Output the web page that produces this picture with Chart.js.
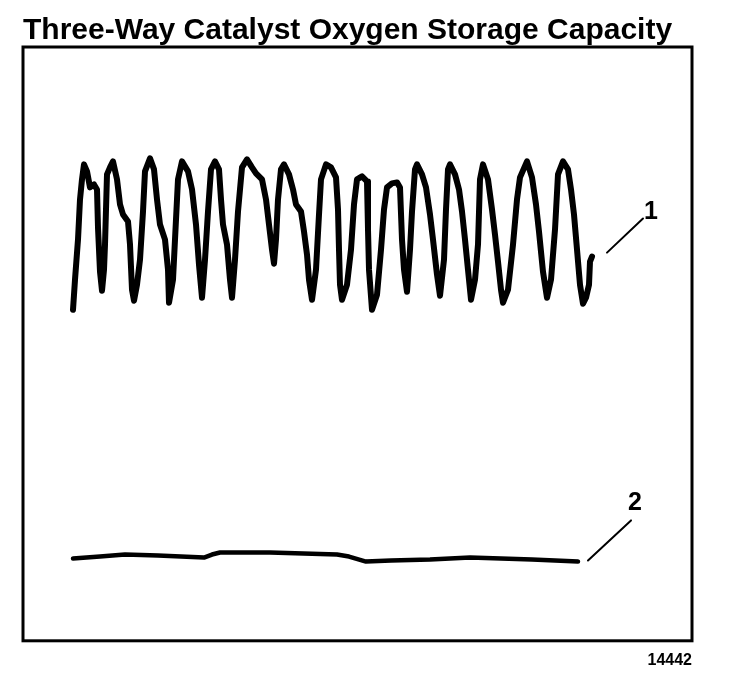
<!DOCTYPE html>
<html>
<head>
<meta charset="utf-8">
<title>Three-Way Catalyst Oxygen Storage Capacity</title>
<script src="https://cdn.jsdelivr.net/npm/chart.js@4/dist/chart.umd.min.js"></script>
<style>
  html, body { margin: 0; padding: 0; background: #fff; }
  #wrap { width: 736px; height: 676px; position: relative; }
</style>
</head>
<body>
<div id="wrap"><canvas id="o2-chart"></canvas></div>
<script>
/* ---- Three-Way Catalyst Oxygen Storage Capacity ---- */

// trace 1: sensor ahead of the catalyst (time s, signal mV)
const upperTime = [
  5.0, 5.2, 5.5, 5.7, 5.9, 6.1, 6.4, 6.7, 7.1, 7.4, 7.5, 7.7, 7.9, 8.1, 8.2, 8.4, 8.7, 9.0, 9.4, 9.7,
  10.0, 10.5, 10.7, 10.9, 11.1, 11.4, 11.7, 12.0, 12.2, 12.7, 13.1, 13.4, 13.7, 14.2, 14.5, 14.6, 15.0, 15.3, 15.5, 15.9,
  16.5, 16.9, 17.3, 17.6, 17.9, 18.2, 18.5, 18.8, 19.2, 19.6, 19.8, 20.0, 20.4, 20.7, 20.9, 21.2, 21.5, 21.9, 22.4, 22.9,
  23.3, 23.9, 24.3, 24.6, 24.9, 25.1, 25.3, 25.5, 25.8, 26.1, 26.6, 27.0, 27.3, 27.8, 28.1, 28.4, 28.6, 28.9, 29.3, 29.6,
  29.8, 30.3, 30.8, 31.3, 31.5, 31.6, 31.7, 31.9, 32.4, 32.8, 33.1, 33.4, 33.9, 34.4, 34.5, 34.6, 34.9, 35.4, 35.8, 36.1,
  36.4, 36.9, 37.4, 37.7, 37.9, 38.1, 38.4, 38.7, 38.9, 39.2, 39.4, 39.9, 40.3, 40.7, 41.0, 41.4, 41.7, 42.1, 42.3, 42.5,
  42.7, 43.2, 43.6, 43.9, 44.2, 44.5, 44.8, 45.2, 45.5, 45.7, 46.0, 46.5, 46.9, 47.2, 47.5, 47.8, 48.0, 48.5, 49.0, 49.4,
  49.7, 50.4, 50.9, 51.3, 51.6, 52.0, 52.4, 52.8, 53.2, 53.5, 54.0, 54.5, 54.8, 55.1, 55.4, 55.7, 56.0, 56.3, 56.6, 56.7,
  56.9
];
const upperMv = [
  660, 720, 800, 880, 920, 950, 936, 904, 910, 900, 824, 736, 698, 740, 790, 930, 944, 956, 920, 870,
  850, 836, 790, 700, 678, 710, 760, 856, 936, 962, 940, 880, 830, 800, 740, 674, 720, 840, 920, 956,
  936, 900, 830, 750, 684, 760, 856, 940, 956, 940, 880, 830, 790, 720, 684, 760, 856, 944, 960, 944,
  932, 920, 880, 830, 780, 752, 800, 880, 940, 950, 930, 900, 870, 856, 816, 770, 720, 680, 740, 850,
  920, 950, 944, 924, 860, 780, 710, 680, 710, 780, 870, 920, 926, 916, 820, 740, 660, 690, 780, 860,
  904, 912, 914, 904, 800, 740, 696, 780, 856, 940, 950, 930, 904, 850, 800, 730, 688, 760, 860, 940,
  950, 930, 900, 856, 800, 740, 680, 720, 790, 920, 950, 920, 860, 810, 756, 700, 674, 700, 790, 880,
  924, 956, 924, 870, 816, 736, 684, 720, 820, 930, 956, 940, 900, 850, 780, 710, 672, 684, 710, 756,
  766
];

// trace 2: sensor behind the catalyst
const lowerTime = [5.0, 7.7, 10.2, 13.5, 18.1, 18.9, 19.7, 24.7, 31.4, 32.6, 34.3, 36.8, 40.7, 44.7, 50.9, 55.5];
const lowerMv = [164, 168, 172, 170, 166, 172, 176, 176, 172, 168, 158, 160, 162, 166, 162, 158];

// callouts
const calloutNames = ['1', '2'];
const calloutTime = [62.8, 61.2];
const calloutMv = [855, 275];
const leader1Time = [58.4, 62.0];
const leader1Mv = [774, 842];
const leader2Time = [56.5, 60.8];
const leader2Mv = [160, 240];

const figureNo = '14442';

const pts = (xs, ys) => xs.map((x, i) => ({ x: x, y: ys[i] }));

const framePlugin = {
  id: 'frame',
  afterDraw(chart) {
    const { ctx, chartArea: a } = chart;
    ctx.save();
    ctx.strokeStyle = '#000';
    ctx.lineWidth = 3;
    ctx.strokeRect(a.left, a.top, a.right - a.left, a.bottom - a.top);
    ctx.restore();
  }
};

const calloutPlugin = {
  id: 'callouts',
  afterDatasetsDraw(chart) {
    const { ctx, scales } = chart;
    ctx.save();
    ctx.fillStyle = '#000';
    ctx.font = 'bold 25px "Liberation Sans", Arial, sans-serif';
    ctx.textAlign = 'center';
    ctx.textBaseline = 'middle';
    calloutNames.forEach((name, i) => {
      ctx.fillText(name, scales.x.getPixelForValue(calloutTime[i]), scales.y.getPixelForValue(calloutMv[i]));
    });
    ctx.restore();
  }
};

const lineStyle = (data, width) => ({
  data: data,
  borderColor: '#000',
  borderWidth: width,
  pointRadius: 0,
  tension: 0,
  fill: false,
  borderCapStyle: 'round',
  borderJoinStyle: 'round'
});

new Chart(document.getElementById('o2-chart'), {
  type: 'line',
  data: {
    datasets: [
      lineStyle(pts(upperTime, upperMv), 6),
      lineStyle(pts(lowerTime, lowerMv), 4.5),
      lineStyle(pts(leader1Time, leader1Mv), 2),
      lineStyle(pts(leader2Time, leader2Mv), 2)
    ]
  },
  options: {
    responsive: true,
    maintainAspectRatio: false,
    animation: false,
    layout: { padding: { left: 23, right: 44, top: 0, bottom: 6 } },
    plugins: {
      legend: { display: false },
      tooltip: { enabled: false },
      title: {
        display: true,
        text: 'Three-Way Catalyst Oxygen Storage Capacity',
        align: 'start',
        color: '#000',
        font: { family: '"Liberation Sans", Arial, sans-serif', size: 30, weight: 'bold', lineHeight: 1.1 },
        padding: { top: 14, bottom: 0 }
      },
      subtitle: {
        display: true,
        position: 'bottom',
        align: 'end',
        text: figureNo,
        color: '#000',
        font: { family: '"Liberation Sans", Arial, sans-serif', size: 16, weight: 'bold' },
        padding: { top: 10, bottom: 0 }
      }
    },
    scales: {
      x: { type: 'linear', min: 0, max: 66.9, display: false },
      y: { type: 'linear', min: 0, max: 1184, display: false }
    }
  },
  plugins: [framePlugin, calloutPlugin]
});
</script>
</body>
</html>
